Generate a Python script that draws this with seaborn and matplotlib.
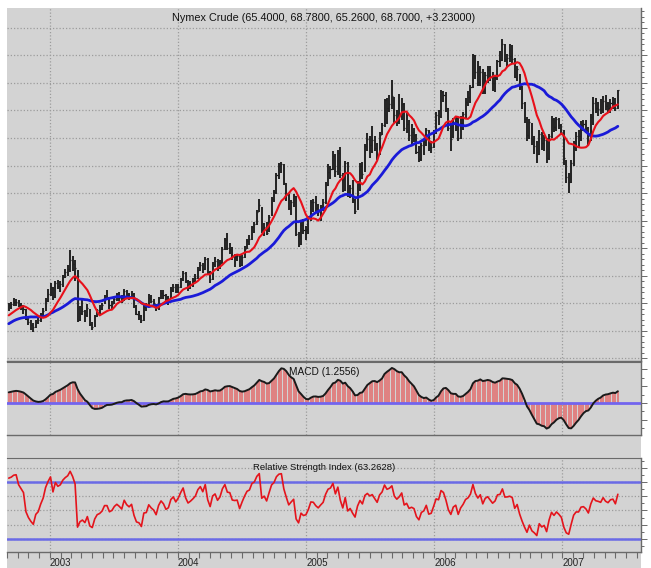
import numpy as np
import pandas as pd
import matplotlib
matplotlib.use('Agg')
import matplotlib.pyplot as plt
import matplotlib.dates as mdates
from matplotlib.ticker import MultipleLocator
from matplotlib.patches import Rectangle
import seaborn as sns

# weekly closes before the first visible bar (Feb-Aug 2002), only used to warm up
# the moving averages / MACD / RSI so they start where the chart shows them
lead_close = [21.3, 21.6, 22.5, 24.1, 24.9, 25.5, 26.3, 26.3, 25.2, 24.1,
              26.1, 26.3, 26.4, 27.4, 28.6, 26.3, 25.3, 24.6, 25.6, 26.1,
              26.9, 26.6, 27.0, 27.0, 26.9, 26.8, 27.0, 29.0, 29.1, 28.9]

first_week = '2002-09-06'   # weekly bars, fridays

# --- weekly closes, Sep 2002 .. Jun 2007 ---
close = [
    # 2002
    29.6, 29.8, 30.2, 30.3, 29.6, 29.3, 29.0, 27.2, 26.5, 26.0, 25.6, 26.6, 26.9,
    27.8, 28.6, 30.4, 31.7,
    # 2003
    32.9, 31.2, 33.6, 33.1, 33.5, 34.8, 35.6, 36.2, 37.8, 37.2, 36.3, 26.9, 28.2,
    28.6, 27.8, 29.2, 26.2, 25.6, 27.6, 28.7, 29.0, 29.6, 31.0, 31.0, 29.6, 29.9,
    30.8, 31.3, 30.9, 30.4, 32.3, 31.5, 31.1, 31.6, 29.5, 28.0, 27.8, 26.9, 29.3,
    29.4, 31.0, 30.4, 30.0, 29.1, 30.9, 31.9, 31.4, 30.4, 30.7, 32.4, 33.0, 32.2,
    # 2004
    33.0, 34.3, 35.5, 34.0, 33.1, 33.5, 34.0, 34.6, 36.1, 36.9, 36.2, 38.1, 35.7,
    34.4, 37.1, 37.7, 36.5, 37.4, 39.9, 41.4, 40.0, 39.9, 38.5, 38.4, 38.5, 36.9,
    38.4, 39.9, 41.3, 41.7, 43.8, 44.4, 46.6, 47.9, 43.2, 43.9, 42.8, 45.6, 48.9,
    50.1, 53.3, 54.9, 55.2, 51.8, 49.6, 47.3, 48.4, 49.4, 42.5, 40.7, 44.2, 43.2, 43.5,
    # 2005
    45.4, 48.4, 48.3, 47.2, 46.5, 47.5, 48.4, 51.5, 53.8, 54.4, 56.7, 54.0, 57.3,
    53.3, 50.5, 55.4, 49.7, 50.9, 48.7, 46.8, 51.9, 55.0, 53.5, 58.5, 59.8, 58.8,
    59.6, 58.1, 56.7, 60.6, 62.3, 66.9, 65.4, 66.1, 67.6, 64.1, 63.0, 64.2, 66.2,
    61.8, 62.6, 60.6, 61.1, 60.6, 57.5, 56.1, 58.7, 59.3, 61.4, 58.1, 58.4, 61.0,
    # 2006
    64.2, 63.9, 68.4, 67.8, 65.4, 61.8, 59.9, 62.9, 63.7, 60.0, 62.7, 64.3, 66.6,
    67.4, 69.3, 75.0, 71.9, 70.2, 72.0, 68.5, 71.4, 72.3, 71.1, 69.9, 70.9, 73.9,
    74.1, 77.0, 74.4, 74.5, 74.8, 74.4, 71.1, 72.5, 69.2, 66.3, 63.4, 60.6, 62.9,
    59.8, 58.6, 57.0, 60.8, 59.1, 59.6, 56.3, 60.3, 63.4, 62.0, 63.4, 62.4, 61.1,
    # 2007
    56.3, 52.9, 52.0, 55.4, 59.0, 60.4, 60.4, 62.4, 62.6, 61.8, 60.3, 63.8, 66.4,
    65.5, 65.3, 65.0, 66.8, 65.8, 65.4, 66.4, 66.6, 65.47, 68.70,
]

high = [
    # 2002
    30.0, 30.3, 30.9, 30.8, 30.6, 30.0, 29.6, 28.9, 27.4, 26.9, 26.4, 27.0, 27.5,
    28.2, 29.2, 31.0, 32.5,
    # 2003
    33.6, 33.0, 34.0, 34.2, 34.0, 35.2, 36.2, 37.0, 39.6, 38.6, 37.8, 36.0, 29.5,
    31.0, 28.8, 29.8, 29.0, 26.6, 27.9, 29.0, 29.6, 30.0, 31.5, 32.4, 31.2, 30.4,
    31.1, 31.8, 32.0, 31.5, 32.6, 32.4, 31.8, 32.2, 31.8, 29.6, 28.5, 27.8, 29.6,
    30.0, 31.6, 31.4, 30.8, 29.9, 31.2, 32.4, 32.4, 31.6, 31.3, 32.9, 33.5, 33.4,
    # 2004
    33.5, 34.6, 35.9, 35.6, 34.2, 34.0, 34.5, 35.3, 36.6, 37.5, 37.3, 38.4, 38.2,
    35.9, 37.5, 38.3, 38.0, 37.8, 40.2, 41.8, 42.7, 41.0, 40.2, 38.9, 39.0, 38.7,
    38.8, 40.4, 41.7, 42.3, 44.0, 44.8, 46.9, 49.0, 47.5, 44.5, 44.8, 46.0, 49.3,
    50.5, 53.6, 55.4, 55.7, 55.3, 51.8, 49.8, 48.8, 49.8, 49.5, 43.0, 44.8, 45.2, 44.0,
    # 2005
    45.9, 48.7, 49.0, 49.4, 48.0, 47.9, 48.9, 52.0, 55.3, 55.0, 57.6, 57.0, 57.8,
    58.3, 53.6, 55.9, 55.6, 51.5, 52.4, 49.0, 52.2, 55.5, 55.6, 58.9, 60.9, 60.3,
    62.1, 60.3, 59.0, 61.0, 62.7, 67.1, 67.3, 67.8, 70.5, 67.5, 65.1, 68.0, 67.2,
    66.3, 64.5, 63.3, 62.6, 61.8, 60.8, 58.6, 59.0, 59.8, 61.9, 61.5, 59.5, 61.4,
    # 2006
    64.8, 65.0, 68.7, 68.6, 68.4, 65.5, 62.5, 63.6, 63.9, 63.8, 64.0, 64.7, 67.2,
    68.6, 69.6, 75.3, 75.0, 74.0, 73.0, 72.6, 72.0, 73.0, 73.0, 72.0, 71.5, 74.2,
    75.8, 78.0, 77.0, 75.2, 77.0, 76.9, 74.5, 73.0, 71.6, 69.5, 66.6, 63.8, 63.5,
    62.8, 60.4, 59.4, 61.5, 61.0, 60.5, 60.0, 60.7, 64.0, 63.7, 63.8, 63.6, 62.5,
    # 2007
    61.5, 56.0, 53.6, 56.0, 59.4, 61.0, 61.4, 63.0, 63.3, 63.2, 62.0, 64.3, 67.5,
    67.2, 66.5, 67.0, 67.6, 67.8, 66.6, 67.0, 67.4, 67.2, 68.78,
]

low = [
    # 2002
    28.6, 29.0, 29.4, 29.5, 29.3, 28.7, 28.0, 27.0, 26.0, 25.2, 24.8, 25.5, 26.3,
    26.6, 27.6, 28.5, 30.2,
    # 2003
    31.3, 30.5, 31.0, 32.6, 32.0, 33.0, 34.5, 35.0, 35.6, 35.8, 34.0, 26.5, 26.8,
    27.8, 26.5, 27.4, 25.9, 25.1, 25.6, 27.4, 28.0, 28.7, 29.8, 30.5, 29.0, 28.8,
    29.8, 30.4, 30.4, 30.0, 30.4, 30.8, 30.5, 30.8, 29.2, 27.8, 27.0, 26.4, 26.8,
    28.6, 29.5, 30.0, 29.4, 28.6, 28.8, 30.8, 30.8, 29.8, 29.6, 30.8, 32.0, 31.8,
    # 2004
    31.9, 32.8, 34.0, 33.6, 32.2, 32.5, 33.0, 33.8, 34.4, 35.8, 35.4, 36.0, 35.2,
    33.6, 34.2, 36.6, 35.9, 36.2, 37.2, 39.6, 39.7, 39.0, 37.8, 36.6, 37.6, 36.5,
    36.8, 38.2, 39.8, 40.6, 41.5, 42.8, 44.2, 46.5, 42.8, 42.2, 42.3, 43.0, 45.8,
    48.4, 49.8, 52.5, 53.6, 51.4, 48.5, 46.9, 46.0, 47.5, 42.2, 40.2, 40.6, 42.5, 41.5,
    # 2005
    42.5, 45.0, 46.5, 46.4, 45.8, 45.0, 46.8, 48.0, 51.3, 52.6, 54.2, 53.0, 53.3,
    52.8, 50.2, 50.3, 49.3, 49.1, 48.2, 46.2, 47.0, 50.3, 52.6, 53.8, 57.6, 56.3,
    57.3, 57.6, 56.0, 56.9, 60.6, 62.0, 62.6, 64.7, 65.2, 62.7, 62.1, 62.6, 63.3,
    61.3, 60.9, 59.5, 58.8, 59.3, 57.0, 55.6, 55.8, 56.9, 58.6, 57.6, 57.2, 58.2,
    # 2006
    60.8, 62.3, 63.6, 66.5, 64.8, 61.2, 57.6, 60.0, 61.2, 59.4, 59.8, 61.5, 63.7,
    65.8, 66.3, 69.0, 70.7, 69.5, 69.4, 68.0, 68.0, 70.0, 70.4, 68.5, 68.4, 70.5,
    72.8, 74.0, 73.8, 72.8, 73.8, 73.5, 70.8, 70.4, 68.7, 65.3, 62.8, 59.5, 59.8,
    58.8, 57.0, 55.5, 56.9, 57.9, 57.7, 55.4, 56.0, 60.0, 61.0, 61.3, 61.7, 60.5,
    # 2007
    55.1, 51.9, 50.0, 51.8, 55.0, 57.6, 58.4, 59.4, 61.3, 60.9, 58.6, 59.5, 62.3,
    64.5, 64.0, 64.3, 64.6, 65.0, 64.6, 64.5, 65.2, 64.9, 65.26,
]

title_txt = 'Nymex Crude (65.4000, 68.7800, 65.2600, 68.7000, +3.23000)'
macd_txt = 'MACD (1.2556)'
rsi_txt = 'Relative Strength Index (63.2628)'

assert len(close) == len(high) == len(low)

# ---- indicators (computed over warm-up + visible weeks) ----
n_lead = len(lead_close)
s = pd.Series(lead_close + close, dtype=float)
ma_fast = s.rolling(10).mean()
ma_slow = s.rolling(30, min_periods=1).mean()
ema12 = s.ewm(span=12, adjust=False).mean()
ema26 = s.ewm(span=26, adjust=False).mean()
macd = ema12 - ema26
delta = s.diff()
up = delta.clip(lower=0).ewm(alpha=1/14, adjust=False).mean()
down = (-delta.clip(upper=0)).ewm(alpha=1/14, adjust=False).mean()
rsi = 100 - 100 / (1 + up / down)

df = pd.DataFrame({
    'date': pd.date_range(first_week, periods=len(close), freq='W-FRI'),
    'close': close, 'high': high, 'low': low,
    'ma_fast': ma_fast.iloc[n_lead:].values,
    'ma_slow': ma_slow.iloc[n_lead:].values,
    'macd': macd.iloc[n_lead:].values,
    'rsi': rsi.iloc[n_lead:].values,
})

# ---- look ----
bg = '#d3d3d3'
grid_c = '#9c9c9c'
spine_c = '#6a6a6a'
sns.set_style('white', {'axes.facecolor': bg})
plt.rcParams['font.family'] = ['Liberation Sans Narrow', 'Liberation Sans', 'DejaVu Sans']

W, H = 651, 568
fig = plt.figure(figsize=(W / 100, H / 100), dpi=100, facecolor='white')

def box(x0, y0, x1, y1):
    # pixel box (top-left origin) -> figure fraction rect
    return [x0 / W, 1 - y1 / H, (x1 - x0) / W, (y1 - y0) / H]

fig.patches.append(Rectangle((7 / W, 0), (641 - 7) / W, 1 - 8 / H,
                             transform=fig.transFigure, facecolor=bg,
                             edgecolor='none', zorder=-10))

ax1 = fig.add_axes(box(7, 8, 641, 361))
ax2 = fig.add_axes(box(7, 362, 641, 435), sharex=ax1)
ax3 = fig.add_axes(box(7, 458, 641, 552), sharex=ax1)

x0 = pd.Timestamp('2002-09-01')
x1 = pd.Timestamp('2007-08-13')

dot = (0, (1, 1.6))
for ax in (ax1, ax2, ax3):
    ax.set_facecolor(bg)
    for sp in ax.spines.values():
        sp.set_visible(False)
    ax.spines['right'].set_visible(True)
    ax.spines['bottom'].set_visible(True)
    ax.spines['right'].set_color(spine_c)
    ax.spines['bottom'].set_color(spine_c)
    ax.spines['right'].set_linewidth(1.0)
    ax.spines['bottom'].set_linewidth(1.0)
    ax.yaxis.tick_right()
    ax.tick_params(axis='y', which='both', right=True, left=False,
                   labelright=False, labelleft=False, direction='out',
                   color=spine_c, width=0.7)
    ax.tick_params(axis='y', which='major', length=4)
    ax.tick_params(axis='y', which='minor', length=2)
    ax.xaxis.set_major_locator(mdates.YearLocator())
    ax.xaxis.set_minor_locator(mdates.MonthLocator())
    ax.grid(axis='x', which='major', color=grid_c, linestyle=dot, linewidth=0.9)
    ax.set_xlim(x0, x1)
for ax in (ax2, ax3):
    ax.spines['top'].set_visible(True)
    ax.spines['top'].set_color(spine_c)

# price panel
ax1.vlines(df['date'], df['low'], df['high'], color='#1c1c1c', linewidth=1.35, zorder=3)
ax1.hlines(df['close'], df['date'], df['date'] + pd.Timedelta(days=3),
           color='#1c1c1c', linewidth=0.9, zorder=3)
sns.lineplot(data=df, x='date', y='ma_slow', ax=ax1, color='#1a1ad8', linewidth=2.0, zorder=4)
sns.lineplot(data=df, x='date', y='ma_fast', ax=ax1, color='#e8101a', linewidth=1.5, zorder=5)
ax1.set_ylim(19.5, 83.6)
ax1.yaxis.set_major_locator(MultipleLocator(5))
ax1.yaxis.set_minor_locator(MultipleLocator(1))
ax1.grid(axis='y', which='major', color=grid_c, linestyle=dot, linewidth=0.9)
ax1.text(0.5, 0.972, title_txt, transform=ax1.transAxes, ha='center', va='center',
         fontsize=7.8, color='#111111')

# MACD panel
ax2.vlines(df['date'], 0, df['macd'], color='#e36a6a', linewidth=1.1, zorder=2)
ax2.axhline(0, color='#7264ee', linewidth=2.0, zorder=3)
sns.lineplot(data=df, x='date', y='macd', ax=ax2, color='#1a1a1a', linewidth=1.4, zorder=4)
mtop = df['macd'].max() * 1.17
ax2.set_ylim(-mtop * 32 / 41, mtop)
ax2.yaxis.set_major_locator(MultipleLocator(2))
ax2.yaxis.set_minor_locator(MultipleLocator(1))
ax2.text(0.5, 0.86, macd_txt, transform=ax2.transAxes, ha='center', va='center',
         fontsize=7.3, color='#111111')

# RSI panel
ax3.axhline(70, color='#6a6ae6', linewidth=1.8, zorder=2)
ax3.axhline(30, color='#6a6ae6', linewidth=1.8, zorder=2)
sns.lineplot(data=df, x='date', y='rsi', ax=ax3, color='#e4141c', linewidth=1.2, zorder=4)
ax3.set_ylim(20.9, 86.8)
ax3.set_yticks([30, 40, 50, 60, 70, 80])
ax3.yaxis.set_minor_locator(MultipleLocator(5))
ax3.grid(axis='y', which='major', color=grid_c, linestyle=dot, linewidth=0.9)
ax3.text(0.5, 0.9, rsi_txt, transform=ax3.transAxes, ha='center', va='center',
         fontsize=6.8, color='#111111')

for ax in (ax1, ax2, ax3):
    ax.set_xlabel('')
    ax.set_ylabel('')

ax1.tick_params(axis='x', which='both', bottom=False, labelbottom=False)
ax2.tick_params(axis='x', which='both', bottom=False, labelbottom=False)
ax3.xaxis.set_major_formatter(mdates.DateFormatter('%Y'))
ax3.tick_params(axis='x', which='both', bottom=True, direction='out', length=4,
                color=spine_c, width=0.8, labelsize=7, pad=0.5, labelcolor='#222222')
for lab in ax3.get_xticklabels():
    lab.set_horizontalalignment('left')

fig.savefig('out.png', dpi=100, facecolor='white')
